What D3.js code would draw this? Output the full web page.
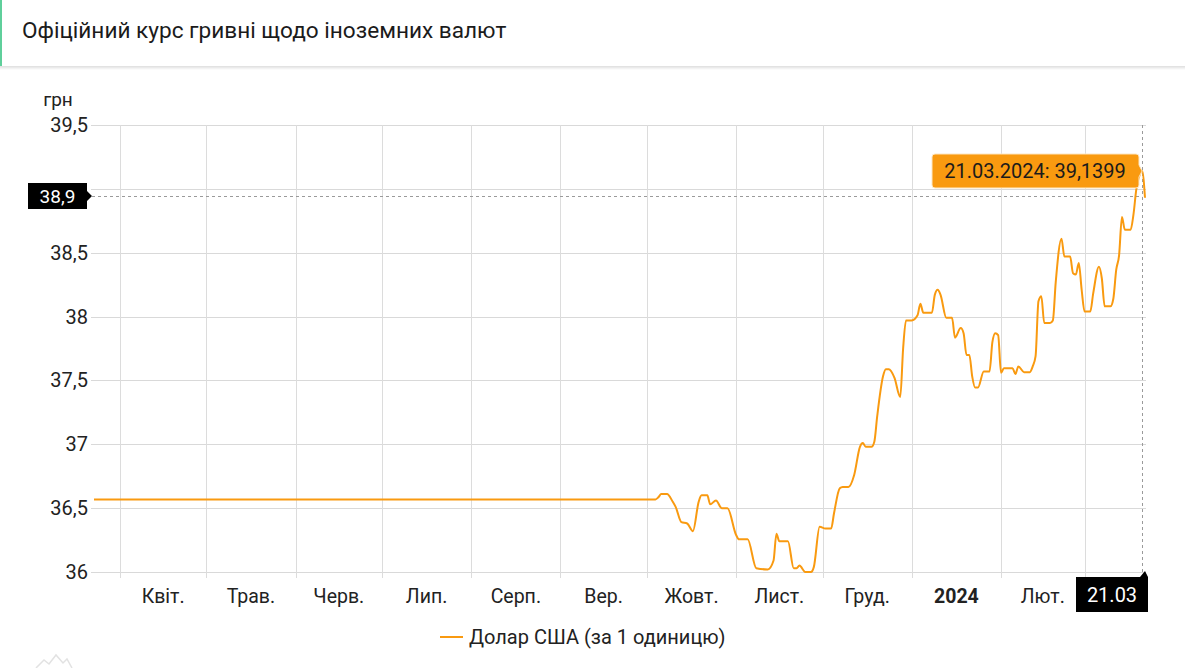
<!DOCTYPE html>
<html><head><meta charset="utf-8">
<script src="https://cdn.jsdelivr.net/npm/d3@7/dist/d3.min.js"></script>
<style>
html,body{margin:0;padding:0;background:#fff;}
body{width:1185px;height:668px;overflow:hidden;font-family:Roboto,"Noto Sans",sans-serif;}
</style></head>
<body>
<svg id="chart" width="1185" height="668"></svg>
<script>
// ---- data ----
const chartTitle = "Офіційний курс гривні щодо іноземних валют";
const seriesName = "Долар США (за 1 одиницю)";
const yUnit = "грн";
const dates = ["2023-03-23","2023-10-04","2023-10-05","2023-10-06","2023-10-08","2023-10-10","2023-10-11","2023-10-13","2023-10-15","2023-10-17","2023-10-19","2023-10-20","2023-10-22","2023-10-23","2023-10-25","2023-10-27","2023-10-29","2023-11-01","2023-11-02","2023-11-05","2023-11-08","2023-11-12","2023-11-14","2023-11-15","2023-11-16","2023-11-19","2023-11-21","2023-11-22","2023-11-23","2023-11-25","2023-11-27","2023-11-28","2023-11-30","2023-12-02","2023-12-04","2023-12-05","2023-12-07","2023-12-08","2023-12-10","2023-12-12","2023-12-14","2023-12-15","2023-12-16","2023-12-18","2023-12-19","2023-12-20","2023-12-22","2023-12-23","2023-12-24","2023-12-26","2023-12-28","2023-12-29","2023-12-30","2024-01-01","2024-01-03","2024-01-04","2024-01-05","2024-01-08","2024-01-09","2024-01-10","2024-01-11","2024-01-13","2024-01-15","2024-01-16","2024-01-18","2024-01-19","2024-01-20","2024-01-21","2024-01-22","2024-01-23","2024-01-24","2024-01-26","2024-01-28","2024-01-29","2024-01-30","2024-01-31","2024-02-01","2024-02-02","2024-02-05","2024-02-06","2024-02-07","2024-02-09","2024-02-11","2024-02-12","2024-02-13","2024-02-14","2024-02-15","2024-02-16","2024-02-18","2024-02-19","2024-02-20","2024-02-22","2024-02-23","2024-02-25","2024-02-26","2024-02-27","2024-02-28","2024-02-29","2024-03-01","2024-03-03","2024-03-04","2024-03-06","2024-03-07","2024-03-08","2024-03-10","2024-03-11","2024-03-12","2024-03-13","2024-03-14","2024-03-15","2024-03-17","2024-03-18","2024-03-19","2024-03-20","2024-03-21","2024-03-22"];
const usdValues = [36.5686,36.5686,36.585,36.61,36.61,36.55,36.51,36.39,36.38,36.32,36.55,36.60,36.60,36.53,36.56,36.50,36.50,36.29,36.256,36.256,36.03,36.02,36.09,36.30,36.24,36.24,36.03,36.03,36.05,36.00,36.00,36.04,36.355,36.34,36.34,36.46,36.655,36.665,36.665,36.76,36.98,37.01,36.98,36.98,37.02,37.22,37.53,37.587,37.587,37.52,37.37,37.75,37.97,37.97,38.01,38.10,38.03,38.03,38.17,38.21,38.17,37.99,37.99,37.835,37.91,37.87,37.70,37.70,37.53,37.445,37.445,37.57,37.57,37.80,37.87,37.855,37.56,37.595,37.595,37.55,37.61,37.565,37.565,37.61,37.69,38.12,38.16,37.95,37.95,37.97,38.27,38.61,38.47,38.47,38.34,38.33,38.42,38.21,38.04,38.04,38.18,38.39,38.30,38.08,38.08,38.14,38.365,38.48,38.78,38.68,38.68,38.80,39.00,39.10,39.1399,38.93];
const yTicks = [36, 36.5, 37, 37.5, 38, 38.5, 39, 39.5];
const monthStarts = ["2023-04-01","2023-05-01","2023-06-01","2023-07-01","2023-08-01","2023-09-01","2023-10-01","2023-11-01","2023-12-01","2024-01-01","2024-02-01","2024-03-01","2024-04-01"];
const monthLabels = ["Квіт.","Трав.","Черв.","Лип.","Серп.","Вер.","Жовт.","Лист.","Груд.","2024","Лют.",""];
const cursorDate = "2024-03-21";
const cursorValue = 39.1399;
const cursorY = 38.944;

// ---- setup ----
const parse = d3.timeParse("%Y-%m-%d");
const data = dates.map((d, i) => ({date: parse(d), value: usdValues[i]}));
const svg = d3.select("#chart");
const W = 1185, H = 668;
const plot = {left: 94, right: 1145, top: 125, bottom: 572};
const x = d3.scaleTime().domain([parse(dates[0]), parse(dates[dates.length-1])]).range([plot.left, plot.right]);
const y = d3.scaleLinear().domain([36, 39.5]).range([plot.bottom, plot.top]);
const fmtComma = v => String(v).replace(".", ",");
const orange = "#f99a10";
const FS = 20;

// header
const defs = svg.append("defs");
const grad = defs.append("linearGradient").attr("id","hshadow").attr("x1",0).attr("y1",0).attr("x2",0).attr("y2",1);
grad.append("stop").attr("offset","0%").attr("stop-color","#000").attr("stop-opacity",0.13);
grad.append("stop").attr("offset","100%").attr("stop-color","#000").attr("stop-opacity",0);
svg.append("rect").attr("x",0).attr("y",66).attr("width",W).attr("height",4).attr("fill","url(#hshadow)");
svg.append("rect").attr("x",0).attr("y",0).attr("width",2).attr("height",66).attr("fill","#5fcf9b");
svg.append("text").attr("x",22).attr("y",38).attr("font-size",22.6).attr("fill","#1b1b1b")
  .attr("font-family","Roboto").text(chartTitle);

// grid
const gGrid = svg.append("g");
gGrid.selectAll("line.h").data(yTicks).join("line")
  .attr("x1", plot.left - 3).attr("x2", plot.right + 1)
  .attr("y1", d => Math.round(y(d)) + 0.5).attr("y2", d => Math.round(y(d)) + 0.5)
  .attr("stroke", "#d9d9d9").attr("stroke-width", 1);
const msDates = monthStarts.map(parse).filter(d => d <= x.domain()[1]);
gGrid.selectAll("line.v").data(msDates).join("line")
  .attr("x1", d => Math.round(x(d)) + 0.5).attr("x2", d => Math.round(x(d)) + 0.5)
  .attr("y1", plot.top).attr("y2", plot.bottom + 6)
  .attr("stroke", "#dcdcdc").attr("stroke-width", 1);

// y labels
svg.append("text").attr("x", 58).attr("y", 106).attr("text-anchor","middle")
  .attr("font-size", 19).attr("fill","#222").text(yUnit);
svg.append("g").selectAll("text").data(yTicks.filter(t => Math.abs(y(t) - y(cursorY)) > 12)).join("text")
  .attr("x", 88).attr("y", d => y(d)).attr("dy","0.35em").attr("text-anchor","end")
  .attr("font-size", FS).attr("fill","#222").text(d => fmtComma(d));

// x labels
const labelData = monthLabels.map((t, i) => ({t, a: parse(monthStarts[i]), b: parse(monthStarts[i+1])})).filter(d => d.t);
svg.append("g").selectAll("text").data(labelData).join("text")
  .attr("x", d => (x(d.a) + x(d.b)) / 2).attr("y", 603).attr("text-anchor","middle")
  .attr("font-size", FS - 0.5).attr("fill","#222")
  .attr("font-weight", d => /^\d{4}$/.test(d.t) ? "bold" : "normal").text(d => d.t);

// crosshair
const cx = x(parse(cursorDate));
svg.append("line").attr("x1", plot.left - 2).attr("x2", cx).attr("y1", Math.round(y(cursorY))+0.5).attr("y2", Math.round(y(cursorY))+0.5)
  .attr("stroke","#9a9a9a").attr("stroke-dasharray","3,3").attr("stroke-width",1);
svg.append("line").attr("x1", Math.round(cx)+0.5).attr("x2", Math.round(cx)+0.5).attr("y1", plot.top).attr("y2", plot.bottom + 4)
  .attr("stroke","#9a9a9a").attr("stroke-dasharray","3,3").attr("stroke-width",1);

// line
const line = d3.line().x(d => x(d.date)).y(d => y(d.value)).curve(d3.curveMonotoneX);
svg.append("path").datum(data).attr("d", line).attr("fill","none")
  .attr("stroke", orange).attr("stroke-width", 2).attr("stroke-linejoin","round");

// y cursor label
const yl = y(cursorY);
svg.append("path").attr("d", `M28,${yl-13} H87 V${yl-5} L92,${yl} L87,${yl+5} V${yl+13} H28 Z`).attr("fill","#000");
svg.append("text").attr("x", 57.5).attr("y", yl).attr("dy","0.35em").attr("text-anchor","middle")
  .attr("font-size", FS - 1).attr("fill","#fff").text(fmtComma(Math.round(cursorY*10)/10));

// x cursor label
svg.append("path").attr("d", `M1076,577 H1140 L1145,571 L1148,577 V612 H1076 Z`).attr("fill","#000");
svg.append("text").attr("x", 1112).attr("y", 595).attr("dy","0.35em").attr("text-anchor","middle")
  .attr("font-size", FS).attr("fill","#fff").text(d3.timeFormat("%d.%m")(parse(cursorDate)));

// tooltip
const ty = y(cursorValue);
const tipPath = `M935,${ty-17} H1136 Q1139,${ty-17} 1139,${ty-14} V${ty-6} L${cx},${ty} L1139,${ty+6} V${ty+14} Q1139,${ty+17} 1136,${ty+17} H935 Q932,${ty+17} 932,${ty+14} V${ty-14} Q932,${ty-17} 935,${ty-17} Z`;
svg.append("path").attr("d", tipPath).attr("fill", orange).attr("stroke","#fde7c4").attr("stroke-width",1);
svg.append("text").attr("x", 1035).attr("y", ty).attr("dy","0.35em").attr("text-anchor","middle")
  .attr("font-size", FS).attr("fill","#1b1b1b")
  .text(d3.timeFormat("%d.%m.%Y")(parse(cursorDate)) + ": " + fmtComma(cursorValue));

// legend
svg.append("line").attr("x1", 440).attr("x2", 463).attr("y1", 637).attr("y2", 637).attr("stroke", orange).attr("stroke-width", 2);
svg.append("text").attr("x", 469).attr("y", 637).attr("dy","0.35em").attr("font-size", FS).attr("fill","#222").text(seriesName);

// faint logo
svg.append("path").attr("d","M36,668 L44,660 L49,664 L56,655 L63,663 L67,659 L72,668")
  .attr("fill","none").attr("stroke","#e2e2e2").attr("stroke-width",1.5);
</script>
</body></html>
